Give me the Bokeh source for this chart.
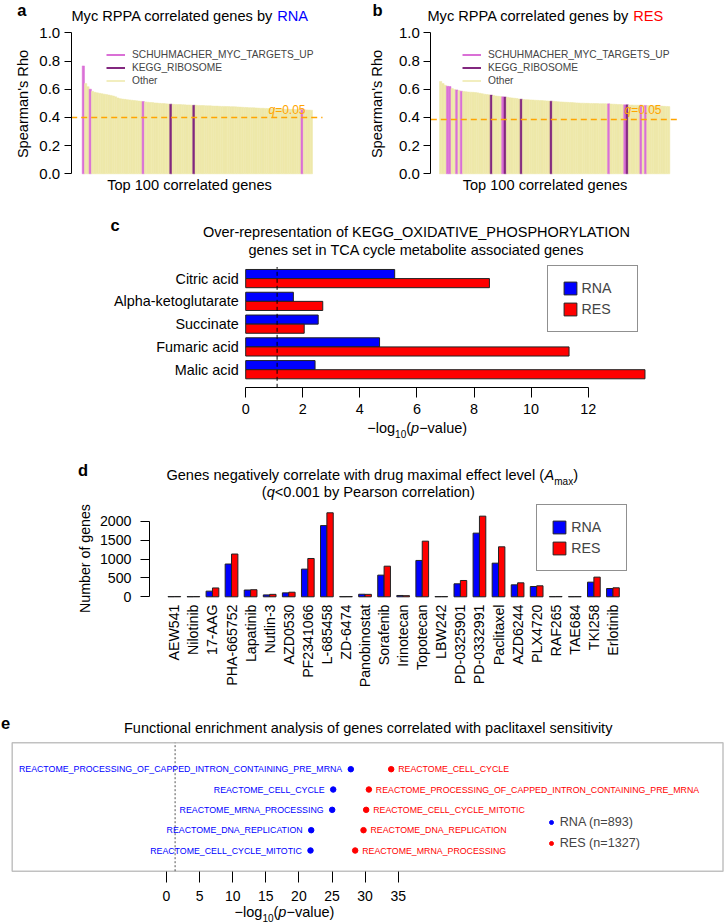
import math
from bokeh.plotting import figure
from bokeh.models import (Range1d, FixedTicker, NumeralTickFormatter, Label, Legend, LegendItem,
                          ColumnDataSource, BoxAnnotation)
from bokeh.layouts import column, row
from bokeh.core.properties import value
from bokeh.embed import file_html
from bokeh.resources import INLINE

FONT = "Liberation Sans"
NAN = float("nan")

# ---------------- data: panels a / b ----------------
genes = list(range(1, 101))
rna_rho = [0.765, 0.640, 0.618, 0.600, 0.585, 0.578, 0.574, 0.571, 0.568, 0.565,
           0.562, 0.559, 0.556, 0.552, 0.546, 0.538, 0.533, 0.530, 0.528, 0.526,
           0.524, 0.522, 0.520, 0.518, 0.516, 0.514, 0.512, 0.510, 0.508, 0.506,
           0.505, 0.503, 0.502, 0.500, 0.499, 0.498, 0.496, 0.495, 0.494, 0.493,
           0.492, 0.491, 0.491, 0.490, 0.489, 0.488, 0.488, 0.487, 0.486, 0.486,
           0.485, 0.484, 0.484, 0.483, 0.482, 0.482, 0.481, 0.480, 0.480, 0.479,
           0.478, 0.478, 0.477, 0.477, 0.476, 0.476, 0.475, 0.474, 0.473, 0.472,
           0.471, 0.470, 0.469, 0.468, 0.468, 0.467, 0.466, 0.465, 0.465, 0.464,
           0.463, 0.462, 0.462, 0.461, 0.460, 0.460, 0.459, 0.459, 0.458, 0.457,
           0.457, 0.456, 0.456, 0.455, 0.455, 0.455, 0.454, 0.453, 0.452, 0.451]
res_rho = [0.655, 0.640, 0.628, 0.621, 0.619, 0.605, 0.598, 0.595, 0.590, 0.586,
           0.584, 0.582, 0.580, 0.579, 0.578, 0.576, 0.574, 0.571, 0.568, 0.565,
           0.562, 0.560, 0.558, 0.555, 0.552, 0.550, 0.548, 0.546, 0.545, 0.543,
           0.540, 0.538, 0.536, 0.534, 0.531, 0.529, 0.527, 0.526, 0.525, 0.524,
           0.523, 0.522, 0.521, 0.520, 0.519, 0.518, 0.517, 0.516, 0.515, 0.514,
           0.512, 0.511, 0.510, 0.509, 0.508, 0.507, 0.506, 0.505, 0.504, 0.503,
           0.502, 0.501, 0.501, 0.500, 0.500, 0.499, 0.499, 0.498, 0.498, 0.497,
           0.497, 0.497, 0.496, 0.496, 0.495, 0.494, 0.493, 0.492, 0.491, 0.490,
           0.489, 0.489, 0.488, 0.488, 0.487, 0.487, 0.487, 0.487, 0.486, 0.485,
           0.484, 0.483, 0.482, 0.482, 0.481, 0.480, 0.480, 0.479, 0.478, 0.477]
rna_myc_genes = [1, 4, 27, 96]
rna_ribo_genes = [39, 49]
res_myc_genes = [4, 5, 8, 10, 28, 74, 81, 88, 90]
res_ribo_genes = [23, 29, 36, 49, 82]
rna_q = 0.40
res_q = 0.385
rho_ticks = [0, 0.2, 0.4, 0.6, 0.8, 1.0]

# ---------------- data: panel c ----------------
metabolites = ["Citric acid", "Alpha-ketoglutarate", "Succinate", "Fumaric acid", "Malic acid"]
c_rna = [5.22, 1.67, 2.54, 4.69, 2.43]
c_res = [8.54, 2.70, 2.05, 11.33, 13.99]
c_cut = 1.1
c_ticks = [0, 2, 4, 6, 8, 10, 12]

# ---------------- data: panel d ----------------
drugs = ["AEW541", "Nilotinib", "17-AAG", "PHA-665752", "Lapatinib", "Nutlin-3", "AZD0530",
         "PF2341066", "L-685458", "ZD-6474", "Panobinostat", "Sorafenib", "Irinotecan",
         "Topotecan", "LBW242", "PD-0325901", "PD-0332991", "Paclitaxel", "AZD6244",
         "PLX4720", "RAF265", "TAE684", "TKI258", "Erlotinib"]
d_rna = [6, 5, 150, 870, 180, 50, 105, 735, 1890, 5, 68, 575, 35, 965, 6, 345, 1690, 893,
         318, 273, 6, 5, 389, 220]
d_res = [8, 7, 235, 1135, 188, 65, 122, 1017, 2230, 6, 65, 813, 30, 1477, 7, 433, 2141, 1327,
         371, 292, 8, 6, 522, 239]
d_ticks = [0, 500, 1000, 1500, 2000]

# ---------------- data: panel e ----------------
e_rank = [5, 4, 3, 2, 1]
e_rna_sets = ["REACTOME_PROCESSING_OF_CAPPED_INTRON_CONTAINING_PRE_MRNA", "REACTOME_CELL_CYCLE",
              "REACTOME_MRNA_PROCESSING", "REACTOME_DNA_REPLICATION", "REACTOME_CELL_CYCLE_MITOTIC"]
e_rna_val = [27.84, 25.18, 25.03, 21.86, 21.75]
e_res_sets = ["REACTOME_CELL_CYCLE", "REACTOME_PROCESSING_OF_CAPPED_INTRON_CONTAINING_PRE_MRNA",
              "REACTOME_CELL_CYCLE_MITOTIC", "REACTOME_DNA_REPLICATION", "REACTOME_MRNA_PROCESSING"]
e_res_val = [33.94, 30.57, 30.16, 29.76, 28.50]
e_cut = 1.3
e_ticks = [0, 5, 10, 15, 20, 25, 30, 35]
e_n_rna = 893
e_n_res = 1327

# ---------------- styling ----------------
MYC_COL = "#DA70D6"
RIBO_COL = "#82287F"
OTHER_COL = "#EEE8AA"
Q_COL = "#FFA500"
BLUE = "#0000FF"
RED = "#FF0000"
EDGE = "#222222"

W = {' ': 278, '(': 333, ')': 333, '-': 333, '\u2212': 584, '=': 584, '<': 584, '.': 278,
     '_': 556, "'": 191}
for ch in "0123456789":
    W[ch] = 556
W.update(dict(a=556, b=556, c=500, d=556, e=556, f=278, g=556, h=556, i=222, j=222, k=500,
              l=222, m=833, n=556, o=556, p=556, q=556, r=333, s=500, t=278, u=556, v=500,
              w=722, x=500, y=500, z=500, A=667, B=667, C=722, D=722, E=667, F=611, G=778,
              H=722, I=278, J=500, K=667, L=556, M=833, N=722, O=778, P=667, Q=778, R=722,
              S=667, T=611, U=722, V=667, X=667, Y=667, Z=611))
W['W'] = 944


def tw(s, size):
    return sum(W.get(ch, 556) for ch in s) * size / 1000.0


class Panel:
    """A figure whose frame covers the whole canvas; page pixel <-> data helpers."""

    def __init__(self, left, top, w, h, xref, xval, sx, yref, yval, sy):
        self.left, self.top, self.w, self.h = left, top, w, h
        self.bottom = top + h
        self.xref, self.xval, self.sx = xref, xval, sx
        self.yref, self.yval, self.sy = yref, yval, sy
        p = figure(x_range=Range1d(self.dx(left), self.dx(left + w)),
                   y_range=Range1d(self.dy(top + h), self.dy(top)),
                   frame_width=w, frame_height=h, min_border=0,
                   toolbar_location=None, output_backend="svg", title=None)
        p.outline_line_color = None
        for g in p.grid:
            g.visible = False
        self.p = p

    def dx(self, px):
        return self.xval + (px - self.xref) / self.sx

    def dy(self, py):
        return self.yval - (py - self.yref) / self.sy

    def lab(self, px, py, text, size=14.5, color="black", align="left", style="normal",
            baseline="alphabetic", angle=0.0):
        # py is the text baseline (alphabetic) or the text centre (middle)
        if baseline == "alphabetic":
            py = py - 0.35 * size
        self.p.add_layout(Label(x=px - self.left, y=self.bottom - py, x_units="screen",
                                y_units="screen", text=text, text_font=FONT,
                                text_font_size=f"{size}px", text_color=color,
                                text_align=align, text_baseline="middle",
                                text_font_style=style, angle=angle))

    def compose(self, cx, by, segs, color="black"):
        total = sum(tw(t, s) for t, s, st, dy in segs)
        x = cx - total / 2.0
        for t, s, st, dy in segs:
            self.lab(x, by + dy, t, size=s, color=color, style=st)
            x += tw(t, s)

    def legend_at(self, items, glyph_left, box_bottom, **kw):
        leg = Legend(items=items, location=(glyph_left - self.left, self.bottom - box_bottom),
                     orientation="vertical", margin=0, label_text_font=FONT, **kw)
        self.p.add_layout(leg)
        return leg


def style_axis(ax, size, tick_out, standoff, line=True, ticks=True):
    ax.axis_line_color = "black" if line else None
    ax.axis_line_width = 1
    ax.major_tick_line_color = "black" if ticks else None
    ax.major_tick_out = tick_out
    ax.major_tick_in = 0
    ax.minor_tick_line_color = None
    ax.major_label_standoff = standoff
    ax.major_label_text_font = FONT
    ax.major_label_text_font_size = f"{size}px"
    ax.major_label_text_color = "black"


LOG_SEGS = [("\u2212log", 14.5, "normal", 0), ("10", 10, "normal", 4), ("(", 14.5, "normal", 0),
            ("p", 14.5, "italic", 0), ("\u2212value)", 14.5, "normal", 0)]


# ---------------- panels a / b ----------------
def rho_panel(left, rho, myc_genes, ribo_genes, q, bar_left, axis_x, plot_right, letter,
              letter_x, word, word_color, word_x, xlab_cx, ylab_cx, leg_x):
    P = Panel(left, 0, 362, 200, bar_left, 0.5, 2.303, 173.3, 0.0, 141.0)
    p = P.p
    cols = [MYC_COL if g in myc_genes else (RIBO_COL if g in ribo_genes else OTHER_COL)
            for g in genes]
    src = ColumnDataSource(dict(x=genes, top=rho, c=cols))
    p.vbar(x="x", top="top", bottom=0, width=1, fill_color="c", line_color="c",
           line_width=0.5, source=src)
    p.segment(x0=[P.dx(axis_x)], y0=[q], x1=[P.dx(plot_right)], y1=[q], line_color=Q_COL,
              line_dash="6 4", line_width=1.5)
    p.xaxis.visible = False
    ax = p.yaxis[0]
    ax.fixed_location = P.dx(axis_x)
    ax.ticker = FixedTicker(ticks=rho_ticks)
    ax.formatter = NumeralTickFormatter(format="0.0")
    ax.bounds = (0, 1)
    style_axis(ax, 15, 7, 4)
    r1 = p.line(x=[NAN], y=[NAN], line_color=MYC_COL, line_width=2)
    r2 = p.line(x=[NAN], y=[NAN], line_color=RIBO_COL, line_width=2)
    r3 = p.line(x=[NAN], y=[NAN], line_color=OTHER_COL, line_width=1.5)
    P.legend_at([LegendItem(label="SCHUHMACHER_MYC_TARGETS_UP", renderers=[r1]),
                 LegendItem(label="KEGG_RIBOSOME", renderers=[r2]),
                 LegendItem(label="Other", renderers=[r3])],
                leg_x, 86.5, padding=0, spacing=0, glyph_width=19, glyph_height=13,
                label_height=13, label_standoff=7, label_text_font_size="10.2px",
                border_line_color=None, background_fill_alpha=0)
    P.lab(letter_x, 15.5, letter, size=16.5, style="bold")
    P.lab(word_x - tw(" ", 14.6), 20.7, "Myc RPPA correlated genes by", size=14.6,
          align="right")
    P.lab(word_x, 20.7, word, size=14.6, color=word_color)
    P.lab(xlab_cx, 189.5, "Top 100 correlated genes", size=14.6, align="center")
    P.lab(ylab_cx, 103.5, "Spearman's Rho", size=14.6, align="center", baseline="middle",
          angle=math.pi / 2)
    qr = plot_right - 17
    P.lab(qr, 113.3, "=0.05", size=12, color=Q_COL, align="right")
    P.lab(qr - tw("=0.05", 12), 113.3, "q", size=12, color=Q_COL, align="right",
          style="italic")
    return p


fa = rho_panel(0, rna_rho, rna_myc_genes, rna_ribo_genes, rna_q, 81.7, 70.7, 322, "a", 16.7,
               "RNA", BLUE, 276.7, 189, 22.5, 106)
fb = rho_panel(362, res_rho, res_myc_genes, res_ribo_genes, res_q, 439, 430.3, 678, "b", 372,
               "RES", RED, 632.7, 544.5, 376.5, 462)

# ---------------- panel c ----------------
PC = Panel(0, 200, 724, 246, 245.2, 0.0, 28.54, 378.3, 0.0, 9.11)
fc = PC.p
grp_base = [(len(metabolites) - 1 - k) * 2.5 for k in range(len(metabolites))]
c_rna_y = [b + 1.5 for b in grp_base]
c_res_y = [b + 0.5 for b in grp_base]
rc1 = fc.hbar(y=c_rna_y, left=0, right=c_rna, height=1, fill_color=BLUE, line_color=EDGE,
              line_width=1)
rc2 = fc.hbar(y=c_res_y, left=0, right=c_res, height=1, fill_color=RED, line_color=EDGE,
              line_width=1)
fc.segment(x0=[c_cut], y0=[PC.dy(387.3)], x1=[c_cut], y1=[PC.dy(266.5)], line_color="black",
           line_dash="4 3", line_width=1)
axc = fc.xaxis[0]
axc.fixed_location = PC.dy(387.3)
axc.ticker = FixedTicker(ticks=c_ticks)
axc.bounds = (0, 12)
style_axis(axc, 14.4, 10, 6)
ayc = fc.yaxis[0]
ayc.fixed_location = 0
ayc.ticker = FixedTicker(ticks=[b + 1.0 for b in grp_base])
ayc.major_label_overrides = {b + 1.0: m for b, m in zip(grp_base, metabolites)}
style_axis(ayc, 14.4, 0, 7, line=False, ticks=False)
PC.legend_at([LegendItem(label="RNA", renderers=[rc1]), LegendItem(label="RES", renderers=[rc2])],
             546.5, 331.7, padding=14, spacing=5, glyph_width=16, glyph_height=16,
             label_height=16, label_width=41, label_standoff=4, label_text_font_size="14.2px",
             border_line_color=EDGE, border_line_width=1, background_fill_color="white",
             background_fill_alpha=1)
PC.lab(110, 230.7, "c", size=16.5, style="bold")
PC.lab(416, 236.7, "Over-representation of KEGG_OXIDATIVE_PHOSPHORYLATION", size=14.5,
       align="center")
PC.lab(416, 255, "genes set in TCA cycle metabolite associated genes", size=14.5,
       align="center")
PC.compose(416.7, 433, LOG_SEGS)

# ---------------- panel d ----------------
PD = Panel(0, 446, 724, 259, 161.1, 0.0, 6.357, 596.3, 0.0, 0.03767)
fd = PD.p
d_blue_x = [1.5 + 3 * i for i in range(len(drugs))]
d_red_x = [2.5 + 3 * i for i in range(len(drugs))]
d_mid = [2.0 + 3 * i for i in range(len(drugs))]
rd1 = fd.vbar(x=d_blue_x, top=d_rna, bottom=0, width=1, fill_color=BLUE, line_color=EDGE,
              line_width=1)
rd2 = fd.vbar(x=d_red_x, top=d_res, bottom=0, width=1, fill_color=RED, line_color=EDGE,
              line_width=1)
ayd = fd.yaxis[0]
ayd.fixed_location = PD.dx(149)
ayd.ticker = FixedTicker(ticks=d_ticks)
ayd.bounds = (0, 2000)
style_axis(ayd, 14.2, 9, 9)
axd = fd.xaxis[0]
axd.fixed_location = PD.dy(597)
axd.ticker = FixedTicker(ticks=d_mid)
axd.major_label_overrides = {m: n for m, n in zip(d_mid, drugs)}
style_axis(axd, 14.2, 0, 7, line=False, ticks=False)
axd.major_label_orientation = math.pi / 2
PD.legend_at([LegendItem(label="RNA", renderers=[rd1]), LegendItem(label="RES", renderers=[rd2])],
             536.3, 571, padding=14, spacing=5, glyph_width=16, glyph_height=16,
             label_height=16, label_width=41, label_standoff=4, label_text_font_size="14.2px",
             border_line_color=EDGE, border_line_width=1, background_fill_color="white",
             background_fill_alpha=1)
PD.lab(77.6, 475, "d", size=16.5, style="bold")
PD.lab(84.5, 558, "Number of genes", size=14.2, align="center", baseline="middle",
       angle=math.pi / 2)
PD.compose(371.7, 480,
           [("Genes negatively correlate with drug maximal effect level (", 14.6, "normal", 0),
            ("A", 14.6, "italic", 0), ("max", 10, "normal", 4), (")", 14.6, "normal", 0)])
PD.compose(367.8, 497,
           [("(", 14.6, "normal", 0), ("q", 14.6, "italic", 0),
            ("<0.001 by Pearson correlation)", 14.6, "normal", 0)])

# ---------------- panel e ----------------
PE = Panel(0, 705, 724, 217, 166, 0.0, 6.62, 850, 1.0, 20.325)
fe = PE.p
fe.add_layout(BoxAnnotation(left=PE.dx(11.7), right=PE.dx(722.5), top=PE.dy(742.3),
                            bottom=PE.dy(870.7), fill_alpha=0, line_color="#333333",
                            line_width=1.5))
fe.segment(x0=[e_cut], y0=[PE.dy(870.7)], x1=[e_cut], y1=[PE.dy(742.3)], line_color="#555555",
           line_dash="2 2", line_width=1)
re1 = fe.scatter(x=e_rna_val, y=e_rank, size=5.5, fill_color=BLUE, line_color=BLUE)
re2 = fe.scatter(x=e_res_val, y=e_rank, size=5.5, fill_color=RED, line_color=RED)
fe.text(x=e_rna_val, y=e_rank, text=e_rna_sets, x_offset=-8.6, text_align="right",
        text_baseline="middle", text_font=value(FONT), text_font_size="8.8px", text_color=BLUE)
fe.text(x=e_res_val, y=e_rank, text=e_res_sets, x_offset=7, text_align="left",
        text_baseline="middle", text_font=value(FONT), text_font_size="8.8px", text_color=RED)
fe.yaxis.visible = False
axe = fe.xaxis[0]
axe.fixed_location = PE.dy(870.7)
axe.ticker = FixedTicker(ticks=e_ticks)
axe.bounds = (0, 35)
style_axis(axe, 14, 11, 9, line=False)
PE.legend_at([LegendItem(label=f"RNA (n={e_n_rna})", renderers=[re1]),
              LegendItem(label=f"RES (n={e_n_res})", renderers=[re2])],
             545.7, 850.3, padding=0, spacing=7, glyph_width=10, glyph_height=14,
             label_height=14, label_standoff=4, label_text_font_size="12.6px",
             border_line_color=None, background_fill_alpha=0)
PE.lab(0.5, 728.3, "e", size=16.5, style="bold")
PE.lab(367.7, 732.7,
       "Functional enrichment analysis of genes correlated with paclitaxel sensitivity",
       size=14.5, align="center")
PE.compose(284, 916.5, LOG_SEGS)

layout = column(row(fa, fb), fc, fd, fe)
open("out.html", "w").write(file_html(layout, INLINE))
